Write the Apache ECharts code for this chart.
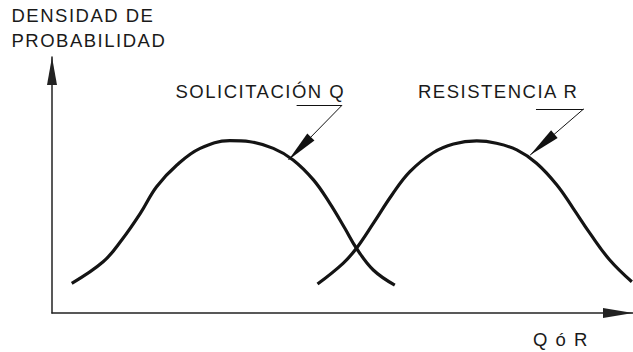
<!DOCTYPE html>
<html>
<head>
<meta charset="utf-8">
<script src="https://cdn.jsdelivr.net/npm/echarts@6/dist/echarts.min.js"></script>
<style>
  body { margin: 0; background: #fff; }
  #main { width: 633px; height: 352px; }
  #main text { letter-spacing: 1.5px; }
</style>
</head>
<body>
<div id="main"></div>
<script>
  // textos
  const tituloY = 'DENSIDAD DE\nPROBABILIDAD'
  const tituloX = 'Q ó R'
  const nombreQ = 'SOLICITACIÓN Q'
  const nombreR = 'RESISTENCIA R'

  // curva de la solicitacion Q: [valor, densidad]
  const curvaQ = [
    [3.4, 11.6], [8.8, 20.0], [12.0, 28.5], [15.2, 38.9], [18.0, 49.3],
    [21.5, 57.8], [25.5, 64.3], [30.6, 67.3], [34.1, 66.9], [38.1, 64.3],
    [41.5, 59.8], [45.0, 52.0], [47.8, 42.9], [50.4, 33.1], [52.4, 25.3],
    [55.3, 16.8], [59.0, 10.9]
  ]
  // curva de la resistencia R
  const curvaR = [
    [45.7, 11.3], [50.1, 19.4], [52.4, 25.3], [55.3, 35.0], [58.5, 46.1],
    [61.6, 55.2], [65.6, 62.6], [69.1, 66.0], [73.1, 67.2], [76.5, 66.3],
    [80.0, 63.7], [83.4, 58.5], [86.9, 50.0], [89.7, 40.9], [92.6, 31.1],
    [96.0, 20.7], [99.8, 12.2]
  ]
  // flechas de las etiquetas: inicio subrayado, fin subrayado, punta
  const flechaQ = [[42.1, 81.1], [49.9, 81.1], [40.7, 59.8]]
  const flechaR = [[83.3, 79.7], [91.5, 79.7], [82.3, 61.7]]

  function flecha(p) {
    return [
      [{coord: p[0]}, {coord: p[1]}],
      [{coord: p[1]}, {coord: p[2], symbol: 'triangle', symbolSize: [10, 32], symbolOffset: [0, 16]}]
    ]
  }

  function curva(datos, puntos) {
    return {
      type: 'line',
      data: datos,
      smooth: 0.4,
      showSymbol: false,
      silent: true,
      lineStyle: {color: '#141414', width: 3.2},
      markLine: {
        silent: true,
        symbol: ['none', 'none'],
        label: {show: false},
        lineStyle: {color: '#111', width: 1, type: 'solid'},
        data: flecha(puntos)
      }
    }
  }

  const texto = {fill: '#1a1a1a', fontSize: 18.5, fontFamily: 'Liberation Sans', verticalAlign: 'middle'}

  let myChart = echarts.init(document.getElementById('main'), null, {renderer: 'svg'})
  myChart.setOption({
    animation: false,
    grid: {left: 52, right: 0, top: 57, bottom: 39, outerBoundsMode: 'none'},
    xAxis: {
      type: 'value',
      min: 0,
      max: 100,
      axisLine: {
        show: true,
        onZero: false,
        symbol: ['none', 'triangle'],
        symbolSize: [10, 30],
        symbolOffset: [0, -15],
        lineStyle: {color: '#222', width: 1.5}
      },
      axisTick: {show: false},
      axisLabel: {show: false},
      splitLine: {show: false}
    },
    yAxis: {
      type: 'value',
      min: 0,
      max: 100,
      axisLine: {
        show: true,
        onZero: false,
        symbol: ['none', 'triangle'],
        symbolSize: [10, 28],
        symbolOffset: [0, -14],
        lineStyle: {color: '#222', width: 1.5}
      },
      axisTick: {show: false},
      axisLabel: {show: false},
      splitLine: {show: false}
    },
    graphic: [
      {type: 'text', x: 11.5, y: 28, style: Object.assign({text: tituloY, lineHeight: 24.3}, texto)},
      {type: 'text', x: 175.5, y: 91, style: Object.assign({text: nombreQ}, texto)},
      {type: 'text', x: 418, y: 91.5, style: Object.assign({text: nombreR}, texto)},
      {type: 'text', x: 533, y: 339.5, style: Object.assign({text: tituloX}, texto)}
    ],
    series: [curva(curvaQ, flechaQ), curva(curvaR, flechaR)]
  })
</script>
</body>
</html>
